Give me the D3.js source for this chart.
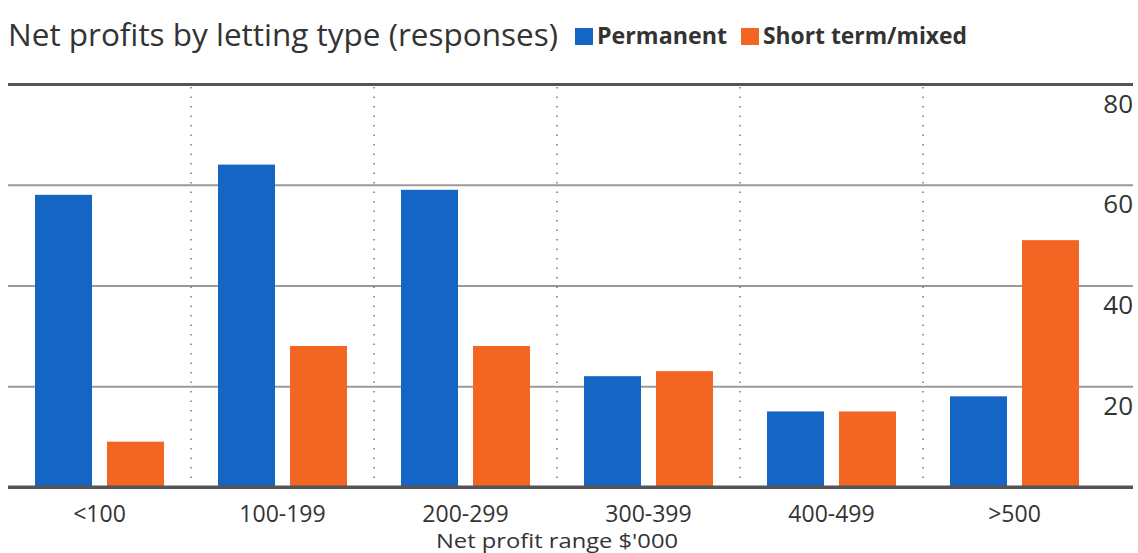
<!DOCTYPE html>
<html>
<head>
<meta charset="utf-8">
<script src="https://cdn.jsdelivr.net/npm/d3@7"></script>
<style>
  body { margin: 0; background: #fff; }
  text { font-family: "Open Sans", sans-serif; fill: #333; }
</style>
</head>
<body>
<div id="chart"></div>
<script>
const categories = ['<100', '100-199', '200-299', '300-399', '400-499', '>500'];
const seriesNames = ['Permanent', 'Short term/mixed'];
const permanent = [58, 64, 59, 22, 15, 18];
const shortTerm = [9, 28, 28, 23, 15, 49];
const yTicks = [0, 20, 40, 60, 80];
const colors = ['#1565c4', '#f26522'];

const width = 1138, height = 553;
const svg = d3.select('#chart').append('svg')
  .attr('width', width).attr('height', height);

// scales
let x = d3.scaleBand().domain(categories).range([8, 1106]);
let x1 = d3.scaleBand().domain(seriesNames).range([27, 156]).paddingInner(0.2083);
let y = d3.scaleLinear().domain([0, 80]).range([487, 84]);

// horizontal gridlines + right labels
let yAxis = d3.axisLeft(y).tickValues(yTicks).tickSize(1125).tickFormat(d => d === 0 ? '' : d);
let gy = svg.append('g').attr('transform', 'translate(1133,0)').call(yAxis);
gy.select('.domain').remove();
gy.selectAll('.tick line')
  .attr('stroke', d => (d === 80 || d === 0) ? '#555' : '#9a9a9a')
  .attr('stroke-width', d => (d === 80 || d === 0) ? 3 : 2);
gy.selectAll('.tick text')
  .attr('x', 0).attr('dy', 28).attr('y', 0)
  .attr('text-anchor', 'end')
  .style('font-size', '26px').style('fill', '#333');

// dotted separators
svg.append('g').selectAll('line')
  .data(categories.slice(1))
  .enter().append('line')
  .attr('x1', d => x(d)).attr('x2', d => x(d))
  .attr('y1', y(80) + 3).attr('y2', y(0))
  .attr('stroke', '#777').attr('stroke-width', 1.5)
  .attr('stroke-dasharray', '1.5,8');

// bars
let rows = categories.map((c, i) => ({ cat: c, vals: [permanent[i], shortTerm[i]] }));
let groups = svg.append('g').selectAll('g')
  .data(rows).enter().append('g')
  .attr('transform', d => `translate(${x(d.cat)},0)`);
groups.selectAll('rect')
  .data(d => d.vals.map((v, j) => ({ key: seriesNames[j], v: v, j: j })))
  .enter().append('rect')
  .attr('x', d => x1(d.key))
  .attr('width', x1.bandwidth())
  .attr('y', d => y(d.v))
  .attr('height', d => y(0) - y(d.v))
  .attr('fill', d => colors[d.j]);

// redraw baseline on top of bars
svg.append('line')
  .attr('x1', 8).attr('x2', 1133).attr('y1', y(0)).attr('y2', y(0))
  .attr('stroke', '#555').attr('stroke-width', 3);

// category labels
let xAxis = d3.axisBottom(x).tickSize(0).tickPadding(0);
let gx = svg.append('g').attr('transform', `translate(0,${y(0)})`).call(xAxis);
gx.select('.domain').remove();
gx.selectAll('.tick text')
  .attr('y', 0).attr('dy', 35)
  .style('font-size', '23px').style('fill', '#333');

// axis title
svg.append('text')
  .attr('x', (x.range()[0] + x.range()[1]) / 2).attr('y', 548)
  .attr('text-anchor', 'middle')
  .attr('textLength', 242).attr('lengthAdjust', 'spacingAndGlyphs')
  .style('font-size', '20px')
  .text("Net profit range $'000");

// title
svg.append('text')
  .attr('x', 8).attr('y', 46)
  .attr('textLength', 550).attr('lengthAdjust', 'spacingAndGlyphs')
  .style('font-size', '31px')
  .text('Net profits by letting type (responses)');

// legend
let legend = [
  { name: seriesNames[0], color: colors[0], x: 575, w: 130 },
  { name: seriesNames[1], color: colors[1], x: 741, w: 204 }
];
let lg = svg.append('g').selectAll('g').data(legend).enter().append('g');
lg.append('rect')
  .attr('x', d => d.x).attr('y', 28).attr('width', 18).attr('height', 17)
  .attr('fill', d => d.color);
lg.append('text')
  .attr('x', d => d.x + 22).attr('y', 44)
  .attr('textLength', d => d.w).attr('lengthAdjust', 'spacingAndGlyphs')
  .style('font-size', '23px').style('font-weight', 'bold')
  .text(d => d.name);
</script>
</body>
</html>
